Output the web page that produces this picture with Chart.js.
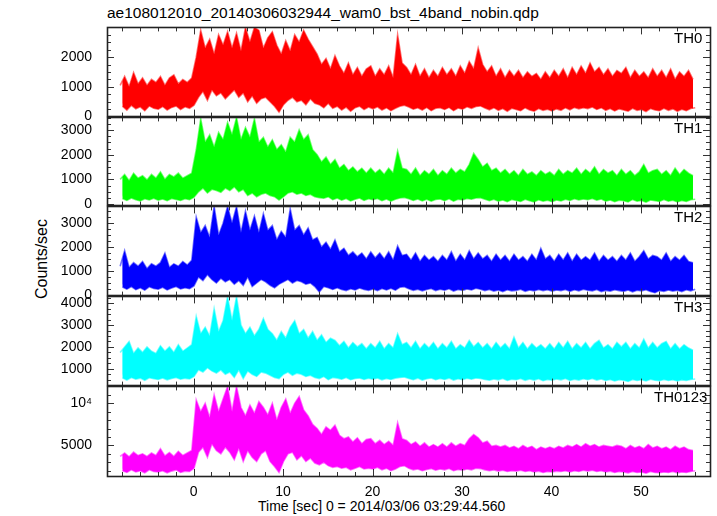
<!DOCTYPE html>
<html><head><meta charset="utf-8">
<script src="https://cdn.jsdelivr.net/npm/chart.js@4"></script>
<style>
html,body{margin:0;padding:0;background:#fff;}
#wrap{position:relative;width:717px;height:516px;overflow:hidden;background:#fff;font-family:"Liberation Sans",Arial,sans-serif;color:#000;}
#wrap canvas{position:absolute;left:0;}
.txt{position:absolute;white-space:nowrap;font-size:14px;line-height:1;}
.lab{position:absolute;white-space:nowrap;font-size:15px;line-height:15px;}
</style></head><body>
<div id="wrap">
  <div class="txt" style="left:107px;top:5px;font-size:15.5px;">ae108012010_20140306032944_wam0_bst_4band_nobin.qdp</div>
  <div class="txt" style="left:258px;top:499px;font-size:14px;">Time [sec] 0 = 2014/03/06 03:29:44.560</div>
  <div class="txt" style="left:42px;top:259px;font-size:16px;transform:translate(-50%,-50%) rotate(-90deg);">Counts/sec</div>
</div>
<script>
// ---------- data (0.5 s bins starting at t = -8.2 s; per-bin upper / lower envelope) ----------
const T_START = -8.2;
const T_STEP = 0.5;

const TH0_HI = [
 1050,1350,1000,1480,1100,1300,1050,1250,
 1150,1350,1050,1300,1400,1100,1250,1150,
 1300,2000,2900,2300,2600,2100,2750,2400,
 2850,2300,2800,2200,3000,2500,3000,2900,
 2300,2650,2850,2400,2100,2550,2200,2750,
 2500,2900,2600,2350,2100,1750,1950,1600,
 2050,1700,1450,1800,1400,1650,1350,1600,
 1700,1350,1600,1400,1700,1300,2750,1800,
 1650,1400,1750,1350,1600,1300,1550,1350,
 1650,1400,1600,1350,1700,1450,1850,1600,
 2300,1750,1500,1700,1350,1600,1300,1550,
 1350,1550,1300,1500,1350,1450,1250,1500,
 1300,1550,1350,1600,1300,1650,1400,1700,
 1450,1800,1500,1650,1400,1600,1350,1550,
 1450,1650,1300,1550,1350,1500,1300,1600,
 1350,1550,1300,1600,1250,1500,1350,1550,
 1250];
const TH0_LO = [
 350,220,380,260,330,200,360,280,
 250,340,220,310,360,240,330,280,
 380,650,850,550,900,700,800,600,
 750,900,650,800,500,700,450,600,
 650,500,350,150,400,550,650,500,
 550,400,600,450,400,300,450,280,
 350,220,320,180,300,350,240,320,
 260,330,220,300,200,280,350,380,
 320,250,300,220,310,200,280,300,
 240,310,200,290,250,330,280,340,
 360,290,230,300,210,270,180,280,
 240,200,300,220,180,270,210,250,
 190,260,210,300,230,310,260,300,
 270,320,240,300,210,270,190,260,
 220,180,280,210,240,170,270,220,
 200,280,210,260,180,250,200,270,
 300];

const TH1_HI = [
 1000,1200,950,1250,1050,1150,980,1200,
 1050,1300,1000,1200,1100,1250,1050,1150,
 1250,2200,3450,2500,2800,2300,2900,2600,
 3300,2800,3500,2600,3100,2700,3450,2500,
 2700,2300,2600,2200,2400,2100,2700,2500,
 3000,2600,2800,2200,2000,1700,1900,1600,
 1800,1450,1600,1350,1500,1300,1450,1250,
 1450,1250,1400,1200,1450,1250,2150,1450,
 1400,1200,1450,1150,1350,1200,1400,1150,
 1350,1200,1450,1250,1400,1300,1600,2050,
 1800,1500,1650,1350,1450,1250,1400,1200,
 1350,1150,1400,1200,1300,1150,1350,1200,
 1300,1150,1400,1200,1350,1250,1450,1200,
 1400,1250,1500,1200,1400,1250,1350,1150,
 1400,1200,1350,1150,1300,1600,1250,1350,
 1400,1200,1350,1150,1450,1200,1400,1250,
 1150];
const TH1_LO = [
 230,150,250,180,130,220,170,240,
 160,210,140,230,190,150,220,180,
 280,500,650,450,600,550,480,650,
 550,700,500,600,350,450,300,400,
 450,350,300,170,300,450,500,400,
 450,350,400,300,260,240,300,180,
 250,160,230,130,200,250,150,220,
 180,230,140,210,120,200,250,270,
 220,150,210,130,200,120,190,210,
 140,220,120,200,170,230,200,250,
 260,200,140,200,120,170,100,190,
 150,110,200,140,90,180,120,160,
 100,170,130,200,150,220,170,210,
 180,230,160,210,120,170,100,160,
 140,90,190,120,150,80,170,140,
 110,190,120,160,90,150,110,180,
 200];

const TH2_HI = [
 1200,1850,1150,1350,1200,1400,1100,1300,
 1200,1350,1750,1150,1300,1200,1400,1250,
 1450,3250,2600,2900,2400,3700,2500,3000,
 3700,3000,3700,2600,3500,2700,3300,2600,
 3400,2700,2900,2300,2650,2400,3600,2700,
 2900,2500,2800,2300,2400,2000,2200,1900,
 2300,1800,1950,1650,1800,1600,1750,1500,
 1800,1550,1750,1500,1800,1450,2050,1650,
 1700,1450,1750,1400,1650,1450,1600,1400,
 1650,1450,1800,1400,1700,1450,1850,1500,
 1750,1500,1650,1400,1700,1450,1650,1400,
 1700,1450,1600,1400,1700,1450,1950,1500,
 1650,1400,1700,1450,1750,1400,1700,1450,
 1600,1450,1750,1400,1650,1450,1600,1400,
 1650,1450,1750,1400,1600,1850,1500,1650,
 1600,1450,1750,1400,1600,1450,1650,1400,
 1350];
const TH2_LO = [
 330,240,350,220,300,200,340,270,
 240,320,210,290,350,250,300,260,
 380,750,600,850,650,500,700,550,
 650,450,600,400,750,350,500,650,
 550,400,300,450,550,650,500,600,
 550,450,500,350,120,350,300,230,
 300,230,180,260,210,290,230,190,
 250,180,270,210,280,200,320,340,
 260,190,240,170,230,270,180,240,
 200,260,160,230,190,250,210,280,
 240,180,230,160,210,140,220,170,
 190,240,150,210,170,230,180,220,
 160,210,180,230,150,220,170,240,
 200,170,230,140,190,160,220,180,
 150,210,130,200,170,220,140,90,
 180,150,210,160,200,140,220,170,
 240];

const TH3_HI = [
 1750,2000,2250,1700,1950,1750,2000,1800,
 1700,2050,1800,2000,1750,2100,1800,1950,
 2100,3400,2600,2900,2500,3750,2700,3200,
 4300,3200,4300,3000,2600,2900,2500,2800,
 3300,2800,2600,2300,2700,2400,2900,3200,
 2600,2800,2400,2700,2300,2550,2200,2400,
 2300,2050,2250,1950,2200,2000,2150,1900,
 2150,1950,2250,1900,2150,1950,2600,2100,
 2200,1950,2250,1900,2150,1950,2200,1900,
 2150,1950,2250,1900,2100,1950,2300,2000,
 2200,1950,2150,1900,2200,1950,2150,1900,
 2450,1950,2200,1900,2150,1950,2100,1900,
 2150,1900,2200,1950,2250,1900,2150,1950,
 2200,1900,2150,2300,1950,2100,1900,2200,
 2000,2200,1900,2150,1950,2350,1950,2200,
 1950,2150,2250,1900,2150,1900,2100,1950,
 1850];
const TH3_LO = [
 580,480,600,520,570,470,590,540,
 510,580,490,550,600,520,560,530,
 650,950,850,1050,900,800,950,750,
 850,600,950,550,900,750,650,850,
 800,700,600,550,750,850,700,800,
 750,650,700,600,550,650,500,600,
 570,520,600,500,550,580,510,560,
 520,580,490,550,510,570,600,620,
 550,500,570,480,540,580,500,550,
 510,570,480,540,500,560,520,580,
 550,510,470,530,490,550,460,520,
 500,550,470,530,480,540,450,510,
 470,530,490,550,460,520,480,540,
 500,550,480,530,460,510,440,500,
 470,420,510,460,500,440,520,470,
 450,510,460,500,440,490,460,510,
 530];

const TH0123_HI = [
 3700,4100,3650,4200,3800,4000,3700,4100,
 3800,4600,3750,4150,3700,4300,3800,4100,
 4400,10400,9000,10000,8300,11000,9000,10500,
 12000,9000,12000,9500,8500,9800,8800,10200,
 9500,8600,10000,8000,9500,10500,8800,10000,
 10800,9200,8500,7500,7000,6300,7200,6800,
 7400,6200,5800,6000,5400,5900,5200,5700,
 5800,5200,5600,5100,5500,5000,7700,5800,
 5600,5100,5400,4900,5300,4800,5100,4800,
 5200,4800,5300,4900,5200,5000,5800,6300,
 5900,5300,5500,4900,5000,4800,5000,4700,
 4900,4600,5000,4700,4900,4500,4800,4600,
 4800,4600,4900,4700,5000,4800,5100,4800,
 5200,4900,5100,4800,5000,4900,4800,5000,
 4900,4600,5000,4700,4900,4600,5100,4700,
 4900,4600,4800,4500,4900,4600,4800,4500,
 4400];
const TH0123_LO = [
 2000,1800,2100,1850,2000,1750,2100,1900,
 1850,2000,1750,1950,2100,1800,1950,1900,
 2300,4200,4800,3600,5200,4400,4000,4800,
 4200,3300,4700,3100,4400,3600,3100,4000,
 4400,3100,2500,1800,3100,4000,4200,3300,
 3800,3100,3500,2900,2700,3000,2600,2400,
 2500,2300,2400,2100,2300,2500,2200,2300,
 2200,2400,2100,2300,2000,2200,2500,2600,
 2300,2100,2200,2000,2150,2250,2050,2200,
 2100,2250,2000,2150,2050,2200,2100,2300,
 2250,2100,2000,2100,1950,2050,1900,2000,
 1950,2050,1900,2000,1850,1950,1800,1900,
 1850,1950,1900,2000,1850,2000,1900,2050,
 1950,2050,1900,2000,1850,1950,1800,1900,
 1850,1750,1900,1800,1850,1700,1900,1800,
 1750,1850,1800,1900,1750,1850,1800,1900,
 2000];

// tick labels
const X_TICKS = [0, 10, 20, 30, 40, 50];
const TH0_TICKS = [0, 1000, 2000];
const TH1_TICKS = [0, 1000, 2000, 3000];
const TH2_TICKS = [0, 1000, 2000, 3000];
const TH3_TICKS = [1000, 2000, 3000, 4000];
const TH0123_TICKS = [5000, 10000];
const PANEL_NAMES = ['TH0', 'TH1', 'TH2', 'TH3', 'TH0123'];

// ---------- layout / style ----------
const X_RANGE = [-9.67, 57.7];
const X_MINOR = 2;
const PLOT_LEFT = 107, PLOT_RIGHT = 710, PAD = 15;
const panels = [
  {name:PANEL_NAMES[0], color:'#ff0000', edge:'rgba(255,0,0,0.55)', hi:TH0_HI, lo:TH0_LO, ticks:TH0_TICKS, min:0, max:3000, minor:250, top:27, bottom:117, labelLeft:674},
  {name:PANEL_NAMES[1], color:'#00ff00', edge:'rgba(0,255,0,0.55)', hi:TH1_HI, lo:TH1_LO, ticks:TH1_TICKS, min:-60, max:3509, minor:250, top:117, bottom:206, labelLeft:674},
  {name:PANEL_NAMES[2], color:'#0000ff', edge:'rgba(0,0,255,0.55)', hi:TH2_HI, lo:TH2_LO, ticks:TH2_TICKS, min:-29, max:3705, minor:250, top:206, bottom:296, labelLeft:674},
  {name:PANEL_NAMES[3], color:'#00ffff', edge:'rgba(0,255,255,0.55)', hi:TH3_HI, lo:TH3_LO, ticks:TH3_TICKS, min:227, max:4318, minor:250, top:296, bottom:386, labelLeft:674},
  {name:PANEL_NAMES[4], color:'#ff00ff', edge:'rgba(255,0,255,0.55)', hi:TH0123_HI, lo:TH0123_LO, ticks:TH0123_TICKS, min:1371, max:12010, minor:1000, top:386, bottom:476, labelLeft:654}
];

function edgePoints(vals, offset) {
  return vals.map((v, i) => ({x: T_START + i * T_STEP + offset, y: v}));
}

const framePlugin = {
  id: 'qdpFrame',
  afterDatasetsDraw(chart, args, opts) {
    const {ctx, chartArea: a, scales: {x, y}} = chart;
    ctx.save();
    ctx.strokeStyle = '#333';
    ctx.lineWidth = 1;
    const L = a.left, R = a.right, T = a.top, B = a.bottom;
    for (let v = Math.ceil(x.min / X_MINOR) * X_MINOR; v <= x.max; v += X_MINOR) {
      const px = Math.round(x.getPixelForValue(v)) + 0.5;
      const len = (Math.abs(v % 10) < 1e-9) ? 7 : 4;
      ctx.beginPath();
      ctx.moveTo(px, B); ctx.lineTo(px, B - len);
      ctx.moveTo(px, T); ctx.lineTo(px, T + len);
      ctx.stroke();
    }
    const m = opts.minor, major = opts.major;
    for (let v = Math.ceil(y.min / m) * m; v <= y.max; v += m) {
      const py = Math.round(y.getPixelForValue(v)) + 0.5;
      const len = (Math.abs(v % major) < 1e-9) ? 7 : 4;
      ctx.beginPath();
      ctx.moveTo(L, py); ctx.lineTo(L + len, py);
      ctx.moveTo(R, py); ctx.lineTo(R - len, py);
      ctx.stroke();
    }
    ctx.lineWidth = 1.6;
    ctx.strokeStyle = '#222';
    ctx.strokeRect(Math.round(L) + 0.5, Math.round(T) + 0.5, Math.round(R - L), Math.round(B - T));
    ctx.restore();
  }
};

const wrap = document.getElementById('wrap');
const FONT = {family: '"Liberation Sans", Arial, sans-serif', size: 14};

panels.forEach((p, k) => {
  const last = k === panels.length - 1;
  const xAxisH = last ? 28 : 0;
  const h = (p.bottom - p.top) + PAD * 2 + xAxisH;
  const cv = document.createElement('canvas');
  cv.width = 717; cv.height = h;
  cv.style.width = '717px'; cv.style.height = h + 'px';
  cv.style.top = (p.top - PAD) + 'px';
  wrap.appendChild(cv);

  const lab = document.createElement('div');
  lab.className = 'lab';
  lab.textContent = p.name;
  lab.style.left = p.labelLeft + 'px';
  lab.style.top = (p.top + 3) + 'px';
  wrap.appendChild(lab);

  const major = p.ticks.length > 1 ? p.ticks[1] - p.ticks[0] : 1000;
  new Chart(cv.getContext('2d'), {
    type: 'line',
    data: {datasets: [
      {data: edgePoints(p.hi, 0), borderColor: p.edge, backgroundColor: p.color,
       borderWidth: 1.6, pointRadius: 0, tension: 0, fill: '+1', clip: 0, parsing: false},
      {data: edgePoints(p.lo, T_STEP / 2), borderColor: p.edge, backgroundColor: p.color,
       borderWidth: 1.6, pointRadius: 0, tension: 0, fill: false, clip: 0, parsing: false}
    ]},
    options: {
      responsive: false, animation: false, events: [],
      layout: {padding: {left: 0, right: 717 - PLOT_RIGHT, top: PAD, bottom: PAD}},
      plugins: {legend: {display: false}, tooltip: {enabled: false}, title: {display: false},
        qdpFrame: {minor: p.minor, major: major}},
      scales: {
        x: {
          type: 'linear', min: X_RANGE[0], max: X_RANGE[1], display: last,
          grid: {display: false}, border: {display: false},
          ticks: {font: FONT, color: '#000', padding: 0, maxRotation: 0, autoSkip: false,
                  callback: v => String(v)},
          afterBuildTicks: s => { s.ticks = X_TICKS.map(v => ({value: v})); },
          afterFit: s => { s.height = xAxisH; }
        },
        y: {
          type: 'linear', min: p.min, max: p.max,
          grid: {display: false}, border: {display: false},
          ticks: {font: FONT, color: '#000', padding: 7, autoSkip: false,
                  callback: v => (v === 10000 ? '10\u2074' : String(v))},
          afterBuildTicks: s => { s.ticks = p.ticks.map(v => ({value: v})); },
          afterFit: s => { s.width = PLOT_LEFT; }
        }
      }
    },
    plugins: [framePlugin]
  });
});
</script>
</body></html>
